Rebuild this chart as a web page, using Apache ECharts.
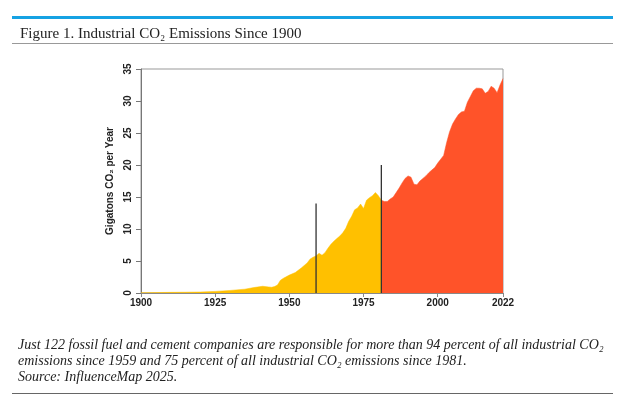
<!DOCTYPE html>
<html>
<head>
<meta charset="utf-8">
<script src="https://cdn.jsdelivr.net/npm/echarts@6/dist/echarts.min.js"></script>
<style>
html,body{margin:0;padding:0;background:#fff;}
#chart{width:640px;height:400px;}
</style>
</head>
<body>
<div id="chart"></div>
<script>
// ---- data ----
const yearsBefore1981 = [1900,1905,1910,1915,1920,1925,1930,1935,1938,1941,1943,1944,1945,1946,1947,1948,1950,1952,1954,1956,1957,1958,1959,1960,1961,1962,1963,1964,1965,1966,1967,1968,1969,1970,1971,1972,1973,1974,1975,1976,1977,1978,1979,1980,1981];
const valuesBefore1981 = [0.05,0.07,0.1,0.12,0.15,0.25,0.4,0.6,0.85,1.05,0.95,0.9,1.0,1.25,2.0,2.3,2.8,3.2,3.9,4.7,5.3,5.6,5.8,6.2,5.9,6.3,7.0,7.6,8.1,8.5,8.9,9.4,10.1,11.2,12.0,13.0,13.3,13.9,13.2,14.5,14.9,15.2,15.7,15.2,14.5];
const yearsSince1981 = [1981,1982,1983,1984,1985,1986,1987,1988,1989,1990,1991,1992,1993,1994,1995,1996,1997,1998,1999,2000,2001,2002,2003,2004,2005,2006,2007,2008,2009,2010,2011,2012,2013,2014,2015,2016,2017,2018,2019,2020,2021,2022];
const valuesSince1981 = [14.5,14.3,14.3,14.7,15.0,15.7,16.4,17.2,17.9,18.3,18.1,17.0,16.9,17.5,17.9,18.3,18.8,19.2,19.6,20.3,20.9,21.5,23.5,25.2,26.4,27.2,27.9,28.3,28.4,29.8,30.7,31.6,32.0,32.0,31.9,31.2,31.5,32.3,32.0,31.3,32.5,33.5];
const markerYears = [1959, 1981];
const markerTops = [14, 20];
const xTickLabels = [1900, 1925, 1950, 1975, 2000, 2022];
const yTickLabels = [0, 5, 10, 15, 20, 25, 30, 35];

const titleText = 'Figure 1. Industrial CO\u2082 Emissions Since 1900';
const captionLines = [
  'Just 122 fossil fuel and cement companies are responsible for more than 94 percent of all industrial CO\u2082',
  'emissions since 1959 and 75 percent of all industrial CO\u2082 emissions since 1981.',
  'Source: InfluenceMap 2025.'
];

const zip = (xs, ys) => xs.map((x, i) => [x, ys[i]]);

const chart = echarts.init(document.getElementById('chart'), null, {renderer: 'canvas'});

const markerSeries = markerYears.map((yr, i) => ({
  type: 'line',
  data: [[yr, 0], [yr, markerTops[i]]],
  symbol: 'none',
  lineStyle: {color: '#333', width: 1.3},
  z: 10,
  silent: true
}));

const axisFont = {fontFamily: 'Liberation Sans', fontWeight: 'bold', fontSize: 10, color: '#222'};

chart.setOption({
  animation: false,
  backgroundColor: '#fff',
  title: {
    text: titleText,
    left: 15, top: 22,
    textStyle: {fontFamily: 'Liberation Serif', fontWeight: 'normal', fontSize: 15, color: '#222'}
  },
  grid: {
    left: 141, right: 137, top: 69, bottom: 107,
    show: true, borderColor: '#999', borderWidth: 1
  },
  xAxis: {
    type: 'value', min: 1900, max: 2022,
    splitLine: {show: false},
    axisLine: {show: true, lineStyle: {color: '#888', width: 1}},
    axisTick: {show: true, length: 4, customValues: xTickLabels, lineStyle: {color: '#888'}},
    axisLabel: Object.assign({margin: 5, customValues: xTickLabels, formatter: v => String(v)}, axisFont)
  },
  yAxis: {
    type: 'value', min: 0, max: 35, interval: 5,
    name: 'Gigatons CO\u2082 per Year',
    nameLocation: 'middle', nameGap: 26, nameRotate: 90,
    nameTextStyle: {fontFamily: 'Liberation Sans', fontWeight: 'bold', fontSize: 10, color: '#222'},
    splitLine: {show: false},
    axisLine: {show: true, lineStyle: {color: '#777', width: 1}},
    axisTick: {show: true, length: 5, lineStyle: {color: '#777'}},
    axisLabel: Object.assign({rotate: 90, margin: 8, customValues: yTickLabels}, axisFont)
  },
  series: [
    {
      type: 'line', data: zip(yearsBefore1981, valuesBefore1981),
      symbol: 'none', lineStyle: {width: 0.5, color: '#FFC000'},
      areaStyle: {color: '#FFC000', opacity: 1}, z: 3
    },
    {
      type: 'line', data: zip(yearsSince1981, valuesSince1981),
      symbol: 'none', lineStyle: {width: 0.5, color: '#FF5329'},
      areaStyle: {color: '#FF5329', opacity: 1}, z: 3
    }
  ].concat(markerSeries),
  graphic: [
    {type: 'rect', shape: {x: 12, y: 16, width: 601, height: 3}, style: {fill: '#16A2E3'}},
    {type: 'rect', shape: {x: 12, y: 43, width: 601, height: 1}, style: {fill: '#999'}},
    {type: 'rect', shape: {x: 12, y: 393, width: 601, height: 1}, style: {fill: '#666'}},
    {type: 'text', left: 18, top: 337, style: {
      text: captionLines.join('\n'), lineHeight: 16,
      font: 'italic 14px "Liberation Serif"', fill: '#222'
    }}
  ]
});
</script>
</body>
</html>
